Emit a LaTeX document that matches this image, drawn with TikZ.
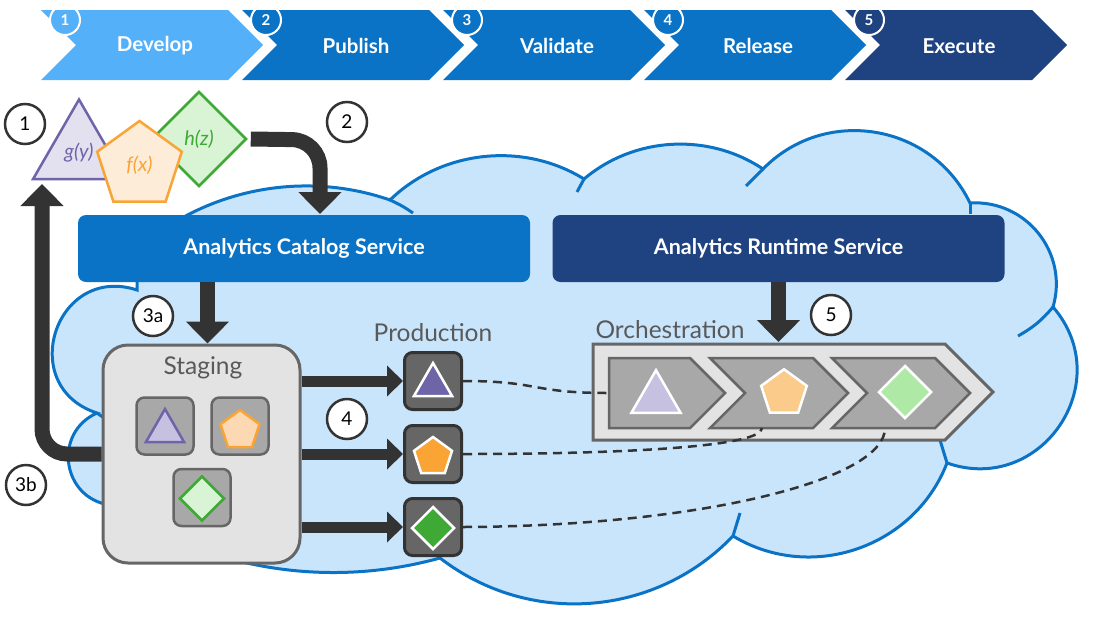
\documentclass[tikz,border=0pt]{standalone}
\usepackage{fontspec}
\setmainfont{Lato}
\usetikzlibrary{positioning,arrows.meta,shapes.geometric}

\definecolor{devblue}{HTML}{54B0F9}
\definecolor{midblue}{HTML}{0A73C6}
\definecolor{navy}{HTML}{1F4381}
\definecolor{cloudfill}{HTML}{C9E5FC}
\definecolor{darkgray}{HTML}{333333}
\definecolor{boxgray}{HTML}{666666}
\definecolor{lightgray}{HTML}{E3E3E3}
\definecolor{midgray}{HTML}{A8A8A8}
\definecolor{labelgray}{HTML}{595959}
\definecolor{purp}{HTML}{6E64A8}
\definecolor{purplight}{HTML}{E3E0F0}
\definecolor{purpmid}{HTML}{C6C1E0}
\definecolor{orng}{HTML}{F9A435}
\definecolor{ornglight}{HTML}{FDECD8}
\definecolor{orngmid}{HTML}{FCD9B2}
\definecolor{orngorch}{HTML}{FBCB8C}
\definecolor{grn}{HTML}{3FA935}
\definecolor{grnlight}{HTML}{D9F3D5}
\definecolor{grnorch}{HTML}{AEE9A5}

\tikzset{
  numcircle/.style={circle, draw=darkgray, line width=2.5pt, fill=white, minimum size=40pt, inner sep=0pt, font=\fontsize{19}{19}\selectfont},
  bigarrow/.style={draw=darkgray, line width=15pt, -{Triangle[width=42pt,length=22pt]}},
  smallarrow/.style={draw=darkgray, line width=11pt, -{Triangle[width=30pt,length=16pt]}},
  link/.style={draw=darkgray, line width=2.5pt, dash pattern=on 9pt off 6pt},
  prodbox/.style={draw=darkgray, fill=boxgray, line width=3pt, rounded corners=8pt, minimum size=57pt},
  stagebox/.style={draw=boxgray, fill=midgray, line width=2.5pt, rounded corners=8pt, minimum size=57pt},
  tri/.style={regular polygon, regular polygon sides=3, inner sep=0pt},
  pent/.style={regular polygon, regular polygon sides=5, inner sep=0pt},
  diam/.style={regular polygon, regular polygon sides=4, shape border rotate=45, inner sep=0pt},
  service/.style={rounded corners=8pt, minimum width=452pt, minimum height=67pt, text=white, font=\bfseries\fontsize{21.5}{21.5}\selectfont},
  grouplabel/.style={text=labelgray, font=\fontsize{24.5}{24.5}\selectfont},
  cloudline/.style={draw=midblue, line width=3pt}
}

\begin{document}
\begin{tikzpicture}[x=1pt, y=-1pt]
\useasboundingbox (0,0) rectangle (1107,619);

% phases
\foreach \i/\name/\col in {0/Develop/devblue, 1/Publish/midblue, 2/Validate/midblue, 3/Release/midblue, 4/Execute/navy} {
  \pgfmathsetmacro\xa{41+201*\i}
  \pgfmathtruncatemacro\n{\i+1}
  \fill[\col] (\xa,10) -- ++(187,0) -- ++(35,35) -- ++(-35,35) -- ++(-187,0) -- ++(35,-35) -- cycle;
  \node[text=white, font=\bfseries\fontsize{20.5}{20.5}\selectfont] (phase\n) at (\xa+114,46) {\name};
  \begin{scope}
    \clip (0,10) rectangle (1107,80);
    \node[circle, draw=white, fill=\col, line width=2pt, minimum size=30pt, inner sep=0pt, text=white, font=\bfseries\fontsize{15}{15}\selectfont] (phasenum\n) at (\xa+24,20) {\n};
  \end{scope}
}

% cloud
\draw[cloudline, fill=cloudfill] (175,222) to[bend left=25, looseness=0.89] (390,200)
  to[bend left=38, looseness=0.94] (584,179)
  to[bend left=37, looseness=0.94] (763,169)
  to[bend left=55, looseness=1.08] (970,203)
  to[bend left=55, looseness=1.08] (1053,307)
  to[bend left=75, looseness=1.35] (947,463)
  to[bend left=50, looseness=1.03] (733,536)
  to[bend left=42, looseness=0.98] (440,558)
  to[bend left=16, looseness=0.87] (220,556) -- (110,505)
  to[bend left=74, looseness=1.34] (97,413)
  to[bend left=90, looseness=1.7] (137,290)
  -- (137,260) -- cycle;
\draw[cloudline] (390,200) to[bend left=5] (413,213);
\draw[cloudline] (584,179) -- (577,192);
\draw[cloudline] (763,169) -- (746,186);
\draw[cloudline] (970,203) -- (970,214);
\draw[cloudline] (1053,307) to[bend left=10] (1018,336);
\draw[cloudline] (947,463) -- (940,440);
\draw[cloudline] (733,536) -- (740,513);
\draw[cloudline] (97,413) -- (104,418);

% services
\node[service, fill=midblue] (catalog) at (304,248.5) {Analytics Catalog Service};
\node[service, fill=navy] (runtime) at (778.5,248.5) {Analytics Runtime Service};

% functions
\node[tri, draw=purp, fill=purplight, line width=2.5pt, minimum size=106pt, text=purp, font=\itshape\fontsize{20}{20}\selectfont] (gy) at (79,152.5) {g(y)};
\node[diam, draw=grn, fill=grnlight, line width=2.5pt, minimum size=94pt, text=grn, font=\itshape\fontsize{20}{20}\selectfont] (hz) at (199,139) {h(z)};
\node[pent, draw=orng, fill=ornglight, line width=2.5pt, minimum size=89pt, text=orng, font=\itshape\fontsize{20}{20}\selectfont] (fx) at (139.5,165.5) {f(x)};
\coordinate (gyfoot) at (42,184);

% staging
\node[draw=boxgray, fill=lightgray, line width=3pt, rounded corners=25pt, minimum width=197pt, minimum height=218pt] (staging) at (201.5,454) {};
\node[grouplabel] (staginglabel) at (203,368) {Staging};
\node[stagebox] (stgA) at (165,426) {};
\node[stagebox] (stgB) at (240,426) {};
\node[stagebox] (stgC) at (202,497.5) {};
\node[tri, draw=purp, fill=purpmid, line width=2.5pt, minimum size=44pt] (stgAshape) at (165,431) {};
\node[pent, draw=orng, fill=orngmid, line width=2.5pt, minimum size=41pt] (stgBshape) at (240,430.5) {};
\node[diam, draw=grn, fill=grnlight, line width=2.5pt, minimum size=44pt] (stgCshape) at (202,498.5) {};

% production
\node[grouplabel] (prodlabel) at (433,333) {Production};
\node[prodbox] (prodA) at (433,381) {};
\node[prodbox] (prodB) at (433,454) {};
\node[prodbox] (prodC) at (433,527) {};
\node[tri, draw=white, fill=purp, line width=2.5pt, minimum size=44pt] (prodAshape) at (433,385) {};
\node[pent, draw=white, fill=orng, line width=2.5pt, minimum size=40pt] (prodBshape) at (433,457) {};
\node[diam, draw=white, fill=grn, line width=2.5pt, minimum size=42pt] (prodCshape) at (433,528) {};

% orchestration
\node[grouplabel] (orchlabel) at (670,330) {Orchestration};
\draw[draw=boxgray, fill=lightgray, line width=3pt] (593,344) -- (945,344) -- (993,392) -- (945,440) -- (593,440) -- cycle;
\draw[draw=boxgray, fill=midgray, line width=2.5pt] (609,358) -- (690,358) -- (725,393) -- (690,428) -- (609,428) -- cycle;
\draw[draw=boxgray, fill=midgray, line width=2.5pt] (710,358) -- (813,358) -- (848,393) -- (813,428) -- (710,428) -- (745,393) -- cycle;
\draw[draw=boxgray, fill=midgray, line width=2.5pt] (832,358) -- (935,358) -- (970,393) -- (935,428) -- (832,428) -- (867,393) -- cycle;
\node[tri, draw=white, fill=purpmid, line width=2.5pt, minimum size=57pt] (orchAshape) at (656,398.7) {};
\node[pent, draw=white, fill=orngorch, line width=2.5pt, minimum size=48pt] (orchBshape) at (784,393.3) {};
\node[diam, draw=white, fill=grnorch, line width=2.5pt, minimum size=52pt] (orchCshape) at (905,392) {};
\coordinate (orchtop) at (778.5,342);
\coordinate (orchA) at (609,393);
\coordinate (orchB) at (762,428);
\coordinate (orchC) at (885,428);

% arrows
\draw[bigarrow, rounded corners=28pt] ([xshift=3pt]hz.east) -- (320,140) -- (320,214);
\draw[bigarrow] ([xshift=6pt]catalog.south -| staging.north) -- ([xshift=6pt]staging.north);
\draw[bigarrow] (runtime.south) -- (orchtop);
\draw[bigarrow, rounded corners=25pt] (staging.west) -- (42,454) -- (gyfoot);
\foreach \p in {prodA,prodB,prodC}
  \draw[smallarrow] (staging.east |- \p) -- (\p.west);

% links
\draw[link] (prodA.east) .. controls (540,381) and (530,393) .. (orchA);
\draw[link] (prodB.east) .. controls (620,454) and (762,447) .. (orchB);
\draw[link] (prodC.east) .. controls (700,526) and (885,480) .. (orchC);

% step numbers
\node[numcircle] (n1) at (25,124) {1};
\node[numcircle] (n2) at (347,122) {2};
\node[numcircle] (n3a) at (153,316) {3a};
\node[numcircle] (n3b) at (26,485) {3b};
\node[numcircle] (n4) at (347,419) {4};
\node[numcircle] (n5) at (831,315) {5};

\end{tikzpicture}
\end{document}
